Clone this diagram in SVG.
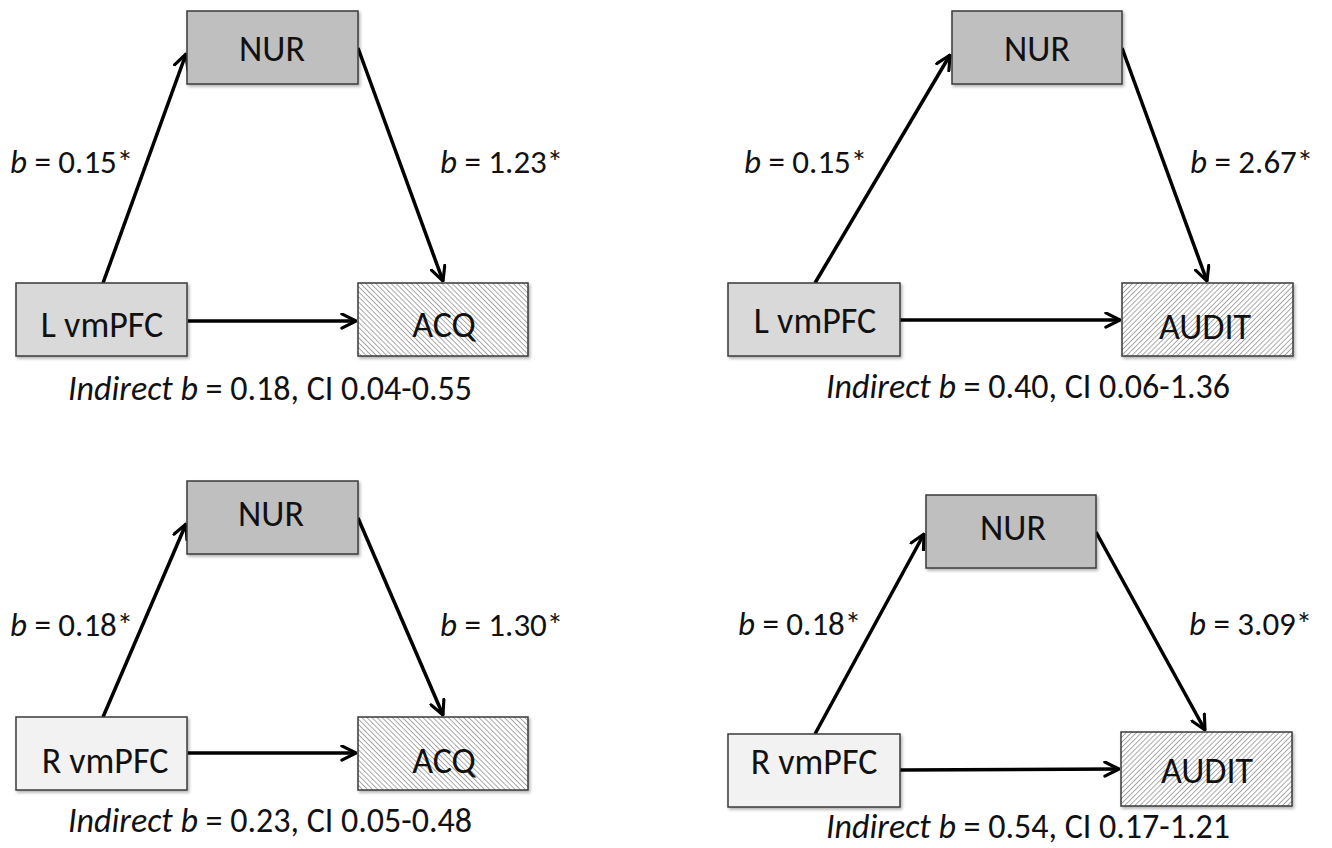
<svg xmlns="http://www.w3.org/2000/svg" width="1332" height="848" viewBox="0 0 1332 848">
<style>
.box{stroke:#3a3a3a;stroke-width:1.5;filter:url(#sh)}
.nur{fill:#bfbfbf}
.lv{fill:#d9d9d9}
.rv{fill:#f2f2f2}
.acq{fill:url(#hatchB)}
.aud{fill:url(#hatchF)}
.nl{font-family:Carlito,Lato,'Open Sans',sans-serif;font-size:36px;fill:#111;text-anchor:middle}
.el{font-family:Carlito,Lato,'Open Sans',sans-serif;font-size:33px;fill:#111}
.ind{font-family:Carlito,Lato,'Open Sans',sans-serif;font-size:34px;fill:#111;text-anchor:middle}
.it{font-style:italic}
.arr{stroke:#000;stroke-width:3.5;fill:none;marker-end:url(#ah)}
</style>
<defs>
<filter id="sh" x="-10%" y="-10%" width="130%" height="140%">
<feDropShadow dx="1.5" dy="2" stdDeviation="1.5" flood-color="#000" flood-opacity="0.3"/>
</filter>
<pattern id="hatchB" width="3.6" height="3.6" patternUnits="userSpaceOnUse" patternTransform="rotate(-45)">
<rect width="3.6" height="3.6" fill="#fff"/>
<line x1="0" y1="0" x2="0" y2="3.6" stroke="#555" stroke-width="1"/>
</pattern>
<pattern id="hatchF" width="3.6" height="3.6" patternUnits="userSpaceOnUse" patternTransform="rotate(45)">
<rect width="3.6" height="3.6" fill="#fff"/>
<line x1="0" y1="0" x2="0" y2="3.6" stroke="#555" stroke-width="1"/>
</pattern>
<marker id="ah" viewBox="0 0 12 12" refX="11" refY="6" markerWidth="17" markerHeight="17" markerUnits="userSpaceOnUse" orient="auto">
<path d="M1,1 L11,6 L1,11" fill="none" stroke="#000" stroke-width="2.2" stroke-linecap="round" stroke-linejoin="round"/>
</marker>
</defs>
<rect width="1332" height="848" fill="#fff"/>

<g id="connectors">
<line class="arr" x1="103" y1="283" x2="186" y2="54"/>
<line class="arr" x1="358" y1="48" x2="443" y2="281"/>
<line class="arr" x1="188" y1="321" x2="356" y2="321"/>
<line class="arr" x1="815" y1="283" x2="950" y2="55"/>
<line class="arr" x1="1122" y1="48" x2="1207" y2="281"/>
<line class="arr" x1="900" y1="320" x2="1120" y2="320"/>
<line class="arr" x1="103" y1="717" x2="186" y2="524"/>
<line class="arr" x1="358" y1="518" x2="443" y2="715"/>
<line class="arr" x1="188" y1="753" x2="356" y2="753"/>
<line class="arr" x1="815" y1="734" x2="924" y2="534"/>
<line class="arr" x1="1096" y1="532" x2="1205" y2="730"/>
<line class="arr" x1="900" y1="770" x2="1119" y2="769"/>
</g>

<g id="tl-nur"><rect class="box nur" x="187" y="11" width="171" height="73"/><text class="nl" x="272" y="61">NUR</text></g>
<g id="tl-lvmpfc"><rect class="box lv" x="16" y="283" width="171" height="73"/><text class="nl" x="102" y="337">L vmPFC</text></g>
<g id="tl-acq"><rect class="box acq" x="358" y="283" width="170" height="73"/><text class="nl" x="444" y="337">ACQ</text></g>
<g id="tl-labels">
<text class="el" x="10" y="173"><tspan class="it">b</tspan> = 0.15*</text>
<text class="el" x="440" y="173"><tspan class="it">b</tspan> = 1.23*</text>
<text class="ind" x="270" y="400"><tspan class="it">Indirect b</tspan> = 0.18, CI 0.04-0.55</text>
</g>

<g id="tr-nur"><rect class="box nur" x="952" y="11" width="170" height="73"/><text class="nl" x="1037" y="61">NUR</text></g>
<g id="tr-lvmpfc"><rect class="box lv" x="728" y="283" width="172" height="73"/><text class="nl" x="815" y="333">L vmPFC</text></g>
<g id="tr-audit"><rect class="box aud" x="1122" y="283" width="171" height="73"/><text class="nl" x="1205" y="339">AUDIT</text></g>
<g id="tr-labels">
<text class="el" x="744" y="173"><tspan class="it">b</tspan> = 0.15*</text>
<text class="el" x="1190" y="173"><tspan class="it">b</tspan> = 2.67*</text>
<text class="ind" x="1028" y="398"><tspan class="it">Indirect b</tspan> = 0.40, CI 0.06-1.36</text>
</g>

<g id="bl-nur"><rect class="box nur" x="187" y="481" width="171" height="73"/><text class="nl" x="271" y="526">NUR</text></g>
<g id="bl-rvmpfc"><rect class="box rv" x="16" y="717" width="171" height="73"/><text class="nl" x="105" y="773">R vmPFC</text></g>
<g id="bl-acq"><rect class="box acq" x="358" y="717" width="170" height="73"/><text class="nl" x="444" y="773">ACQ</text></g>
<g id="bl-labels">
<text class="el" x="10" y="636"><tspan class="it">b</tspan> = 0.18*</text>
<text class="el" x="440" y="636"><tspan class="it">b</tspan> = 1.30*</text>
<text class="ind" x="270" y="832"><tspan class="it">Indirect b</tspan> = 0.23, CI 0.05-0.48</text>
</g>

<g id="br-nur"><rect class="box nur" x="926" y="495" width="170" height="73"/><text class="nl" x="1013" y="540">NUR</text></g>
<g id="br-rvmpfc"><rect class="box rv" x="728" y="734" width="172" height="73"/><text class="nl" x="814" y="774">R vmPFC</text></g>
<g id="br-audit"><rect class="box aud" x="1121" y="732" width="171" height="74"/><text class="nl" x="1207" y="783">AUDIT</text></g>
<g id="br-labels">
<text class="el" x="738" y="635"><tspan class="it">b</tspan> = 0.18*</text>
<text class="el" x="1189" y="635"><tspan class="it">b</tspan> = 3.09*</text>
<text class="ind" x="1028" y="838"><tspan class="it">Indirect b</tspan> = 0.54, CI 0.17-1.21</text>
</g>
</svg>
